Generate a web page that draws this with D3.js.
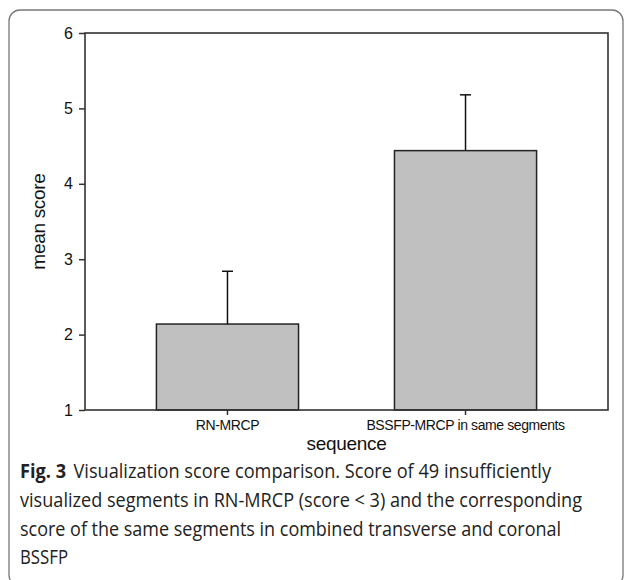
<!DOCTYPE html>
<html>
<head>
<meta charset="utf-8">
<script src="https://cdn.jsdelivr.net/npm/d3@7"></script>
<style>
  body { margin: 0; background: #fff; }
  svg text { font-family: "Liberation Sans", Arial, sans-serif; fill: #111; }
  .caption text { font-family: "Open Sans", "Noto Sans", sans-serif; fill: #222; }
</style>
</head>
<body>
<div id="chart"></div>
<script>
// data
var categories = ["RN-MRCP", "BSSFP-MRCP in same segments"];
var means = [2.14, 4.44];
var sds = [0.70, 0.74];
var yTicks = [1, 2, 3, 4, 5, 6];
var captionLines = [
  "Visualization score comparison. Score of 49 insufficiently",
  "visualized segments in RN-MRCP (score < 3) and the corresponding",
  "score of the same segments in combined transverse and coronal",
  "BSSFP"
];
var captionWidths = [531, 562, 541, 48];

var W = 629, H = 580;
var plot = {left: 85, right: 608, top: 33, bottom: 410};

var svg = d3.select("#chart").append("svg")
  .attr("width", W)
  .attr("height", H);

/* outer rounded frame */
svg.append("rect")
  .attr("x", 9).attr("y", 10)
  .attr("width", 614).attr("height", 576)
  .attr("rx", 11)
  .style("fill", "none")
  .style("stroke", "#777")
  .style("stroke-width", 1.3);

/* scales */
var x = d3.scaleBand()
  .domain(categories)
  .range([plot.left, plot.right])
  .paddingInner(0.403)
  .paddingOuter(0.3);

var y = d3.scaleLinear()
  .domain([1, 6])
  .range([plot.bottom, plot.top]);

/* bars */
svg.selectAll(".bar")
  .data(categories).enter()
  .append("rect")
  .attr("class", "bar")
  .attr("x", d => x(d))
  .attr("y", (d, i) => y(means[i]))
  .attr("width", x.bandwidth())
  .attr("height", (d, i) => y(1) - y(means[i]))
  .style("fill", "#c0c0c0")
  .style("stroke", "#222")
  .style("stroke-width", 1.5);

/* error bars, upper half only */
var cap = 5.5;
var err = svg.append("g").attr("class", "errors")
  .style("stroke", "#111").style("stroke-width", 1.5);
categories.forEach(function(c, i) {
  var cx = x(c) + x.bandwidth() / 2;
  err.append("line")
    .attr("x1", cx).attr("x2", cx)
    .attr("y1", y(means[i])).attr("y2", y(means[i] + sds[i]));
  err.append("line")
    .attr("x1", cx - cap).attr("x2", cx + cap)
    .attr("y1", y(means[i] + sds[i])).attr("y2", y(means[i] + sds[i]));
});

/* frame of the plot */
svg.append("rect")
  .attr("x", plot.left).attr("y", plot.top)
  .attr("width", plot.right - plot.left)
  .attr("height", plot.bottom - plot.top)
  .style("fill", "none")
  .style("stroke", "#333")
  .style("stroke-width", 1.6);

/* axes */
var yAxis = d3.axisLeft(y).tickValues(yTicks).tickSize(6).tickPadding(6).tickFormat(d3.format("d"));
var gy = svg.append("g")
  .attr("transform", `translate(${plot.left},0)`)
  .call(yAxis);
gy.select(".domain").remove();
gy.selectAll("line").style("stroke", "#333").style("stroke-width", 1.5);
gy.selectAll("text").style("font-size", "16px");

var xAxis = d3.axisBottom(x).tickSize(5).tickPadding(5);
var gx = svg.append("g")
  .attr("transform", `translate(0,${plot.bottom})`)
  .call(xAxis);
gx.select(".domain").remove();
gx.selectAll("line").style("stroke", "#333").style("stroke-width", 1.5);
gx.selectAll("text").style("font-size", "14px").attr("letter-spacing", "-0.4");

/* axis titles */
svg.append("text")
  .attr("transform", `translate(45,${(plot.top + plot.bottom) / 2}) rotate(-90)`)
  .attr("text-anchor", "middle")
  .style("font-size", "19px")
  .attr("letter-spacing", "-0.3")
  .text("mean score");

svg.append("text")
  .attr("x", (plot.left + plot.right) / 2)
  .attr("y", 450)
  .attr("text-anchor", "middle")
  .style("font-size", "19px")
  .attr("letter-spacing", "-0.3")
  .text("sequence");

/* caption */
var capG = svg.append("g").attr("class", "caption");
var line0 = capG.append("text")
  .attr("x", 20).attr("y", 478)
  .style("font-size", "19.5px")
  .attr("textLength", captionWidths[0])
  .attr("lengthAdjust", "spacingAndGlyphs");
line0.append("tspan").style("font-weight", "bold").text("Fig. 3");
line0.append("tspan").attr("dx", 8).text(captionLines[0]);

capG.selectAll(".cl")
  .data(captionLines.slice(1)).enter()
  .append("text")
  .attr("class", "cl")
  .attr("x", 20)
  .attr("y", (d, i) => 507 + i * 28.5)
  .style("font-size", "19.5px")
  .attr("textLength", (d, i) => captionWidths[i + 1])
  .attr("lengthAdjust", "spacingAndGlyphs")
  .text(d => d);
</script>
</body>
</html>
